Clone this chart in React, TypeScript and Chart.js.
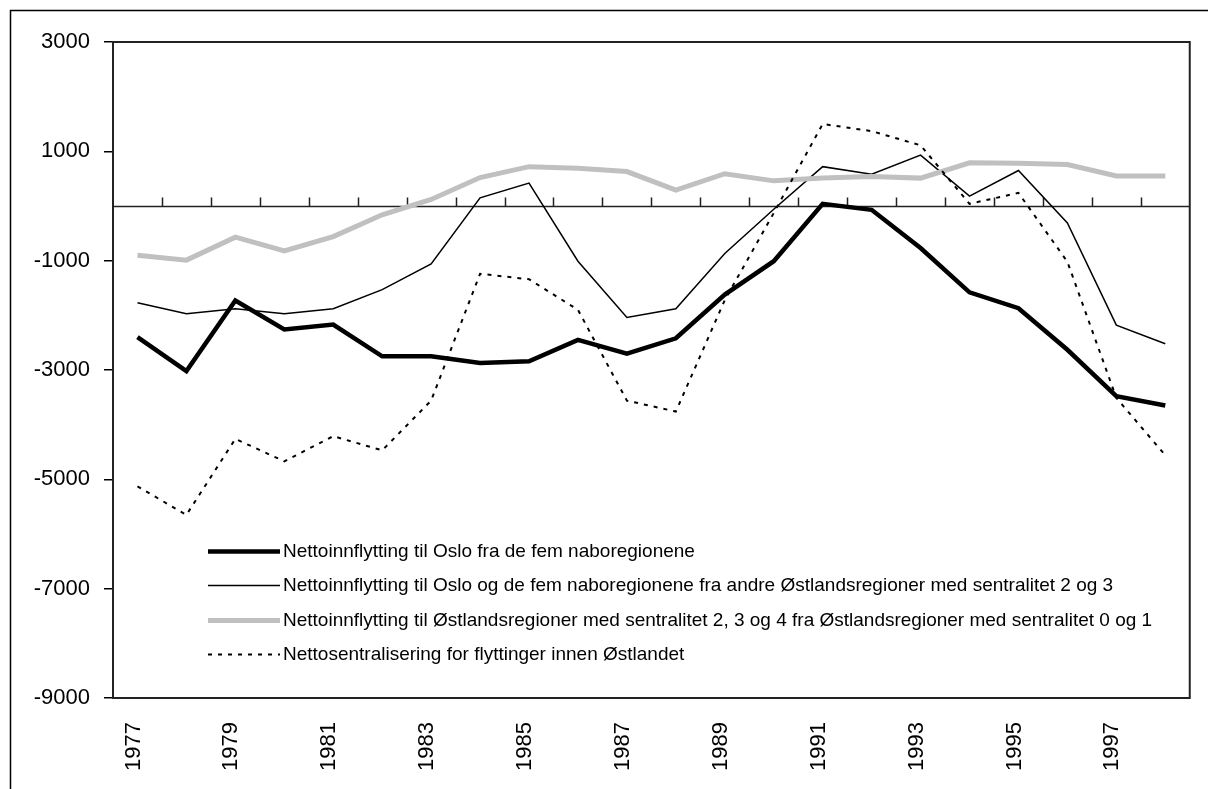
import React, { useEffect, useRef } from 'react';
import { Chart, registerables } from 'chart.js';

Chart.register(...registerables);

const years = [
  '1977', '1978', '1979', '1980', '1981', '1982', '1983', '1984', '1985', '1986', '1987',
  '1988', '1989', '1990', '1991', '1992', '1993', '1994', '1995', '1996', '1997', '1998',
];

const osloFromNeighbours = [
  -2400, -3020, -1730, -2260, -2170, -2750, -2750, -2870, -2840, -2450, -2700,
  -2420, -1620, -1010, 40, -70, -770, -1580, -1870, -2630, -3480, -3650,
];

const osloAndNeighboursFromOthers = [
  -1770, -1970, -1880, -1970, -1880, -1530, -1060, 150, 420, -1010, -2040,
  -1880, -870, -60, 720, 580, 930, 180, 650, -310, -2180, -2520,
];

const centralFromPeripheral = [
  -900, -990, -570, -820, -560, -160, 120, 520, 720, 690, 630,
  290, 590, 460, 510, 540, 510, 790, 780, 760, 550, 550,
];

const netCentralisation = [
  -5130, -5650, -4260, -4670, -4210, -4470, -3560, -1240, -1340, -1900, -3560,
  -3760, -1720, -130, 1500, 1370, 1110, 40, 240, -1020, -3510, -4560,
];

const seriesLabels = [
  'Nettoinnflytting til Oslo fra de fem naboregionene',
  'Nettoinnflytting til Oslo og de fem naboregionene fra andre Østlandsregioner med sentralitet 2 og 3',
  'Nettoinnflytting til Østlandsregioner med sentralitet 2, 3 og 4 fra Østlandsregioner med sentralitet 0 og 1',
  'Nettosentralisering for flyttinger innen Østlandet',
];

const yMin = -9000;
const yMax = 3000;
const yStep = 2000;

const FONT = "'Liberation Sans', Arial, sans-serif";

const framePlugin = {
  id: 'frameAndLegend',
  beforeDraw(chart: any) {
    const ctx = chart.ctx;
    ctx.save();
    ctx.fillStyle = '#fff';
    ctx.fillRect(0, 0, chart.width, chart.height);
    ctx.strokeStyle = '#000';
    ctx.lineWidth = 1.5;
    ctx.beginPath();
    ctx.moveTo(10.5, chart.height + 5);
    ctx.lineTo(10.5, 10.5);
    ctx.lineTo(chart.width + 5, 10.5);
    ctx.stroke();
    ctx.restore();
  },
  beforeDatasetsDraw(chart: any) {
    const ctx = chart.ctx;
    const { left, right } = chart.chartArea;
    const xs = chart.scales.x;
    const ys = chart.scales.y;
    const y0 = Math.round(ys.getPixelForValue(0)) + 0.5;
    ctx.save();
    ctx.strokeStyle = '#222';
    ctx.lineWidth = 1.5;
    ctx.beginPath();
    ctx.moveTo(left, y0);
    ctx.lineTo(right, y0);
    const n = chart.data.labels.length;
    for (let i = 0; i < n - 1; i++) {
      const xb = Math.round((xs.getPixelForValue(i) + xs.getPixelForValue(i + 1)) / 2) + 0.5;
      ctx.moveTo(xb, y0);
      ctx.lineTo(xb, y0 - 9);
    }
    ctx.stroke();
    ctx.restore();
  },
  afterDraw(chart: any) {
    const ctx = chart.ctx;
    const { left, right, top, bottom } = chart.chartArea;
    ctx.save();
    ctx.strokeStyle = '#222';
    ctx.lineWidth = 2;
    ctx.strokeRect(left, top, right - left, bottom - top);
    // legend
    const lx = left + 95;
    const ly = top + 509;
    const rowH = 34.3;
    chart.data.datasets.forEach((ds: any, i: number) => {
      const y = Math.round(ly + i * rowH) + 0.5;
      ctx.save();
      ctx.strokeStyle = ds.borderColor;
      ctx.lineWidth = ds.borderWidth;
      ctx.setLineDash(ds.borderDash || []);
      ctx.beginPath();
      ctx.moveTo(lx, y);
      ctx.lineTo(lx + 72, y);
      ctx.stroke();
      ctx.restore();
      ctx.fillStyle = '#000';
      ctx.font = `19px ${FONT}`;
      ctx.textBaseline = 'middle';
      ctx.textAlign = 'left';
      ctx.fillText(ds.label, lx + 75, y);
    });
    ctx.restore();
  },
};

export default function App() {
  const ref = useRef<HTMLCanvasElement>(null);

  useEffect(() => {
    const canvas = ref.current;
    if (!canvas) return;
    const chart = new Chart(canvas, {
      type: 'line',
      data: {
        labels: years,
        datasets: [
          {
            label: seriesLabels[0],
            data: osloFromNeighbours,
            borderColor: '#000',
            borderWidth: 4.5,
            order: 3,
          },
          {
            label: seriesLabels[1],
            data: osloAndNeighboursFromOthers,
            borderColor: '#000',
            borderWidth: 1.5,
            order: 2,
          },
          {
            label: seriesLabels[2],
            data: centralFromPeripheral,
            borderColor: '#c0c0c0',
            borderWidth: 5,
            order: 1,
          },
          {
            label: seriesLabels[3],
            data: netCentralisation,
            borderColor: '#000',
            borderWidth: 2,
            borderDash: [4, 6],
            order: 0,
          },
        ] as any,
      },
      options: {
        responsive: false,
        animation: false,
        devicePixelRatio: 1,
        elements: {
          point: { radius: 0, hoverRadius: 0 },
          line: { tension: 0, fill: false, borderJoinStyle: 'miter' as any },
        },
        layout: { padding: { left: 0, top: 42, right: 14, bottom: 0 } },
        plugins: {
          legend: { display: false },
          tooltip: { enabled: false },
          title: { display: false },
        },
        scales: {
          x: {
            type: 'category',
            offset: true,
            grid: { display: false },
            border: { display: false },
            ticks: {
              autoSkip: false,
              maxRotation: 90,
              minRotation: 90,
              padding: 16,
              labelOffset: -4,
              color: '#000',
              font: { family: FONT, size: 22 },
              callback: function (this: any, v: any, i: number) {
                return i % 2 === 0 ? this.getLabelForValue(v) : '';
              },
            },
            afterFit: (s: any) => {
              s.height = 91;
            },
          },
          y: {
            min: yMin,
            max: yMax,
            grid: {
              drawOnChartArea: false,
              drawTicks: true,
              tickLength: 9,
              color: '#000',
              lineWidth: 1.5,
            },
            border: { display: false },
            ticks: {
              stepSize: yStep,
              padding: 14,
              color: '#000',
              font: { family: FONT, size: 22 },
              callback: (v: any) => String(v),
            },
            afterFit: (s: any) => {
              s.width = 113;
            },
          },
        },
      },
      plugins: [framePlugin],
    });
    return () => chart.destroy();
  }, []);

  return (
    <div
      style={{
        position: 'fixed',
        left: 0,
        top: 0,
        width: 1208,
        height: 789,
        overflow: 'hidden',
        background: '#fff',
      }}
    >
      <canvas ref={ref} width={1208} height={789} style={{ display: 'block' }} />
    </div>
  );
}
